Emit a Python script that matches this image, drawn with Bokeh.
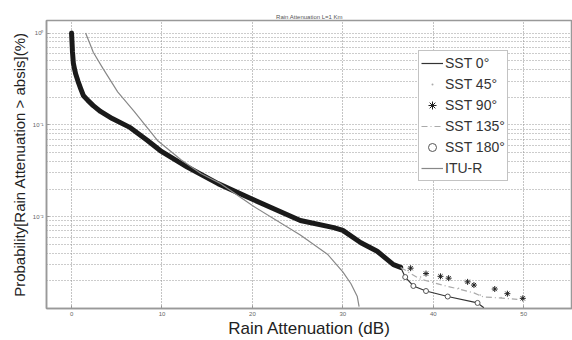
from bokeh.plotting import figure
from bokeh.models import Range1d, FixedTicker, Legend, LegendItem
from bokeh.embed import file_html
from bokeh.resources import INLINE

# ---- data ----
# common part where all SST angles overlap
common_x = [0.0, 0.05, 0.1, 0.2, 0.3, 0.45, 0.7, 1.0, 1.3, 1.8, 2.4, 3.2, 4.5, 6.5, 8.4, 9.8, 12.8, 16.2, 20.0,
            25.3, 29.0, 30.0, 32.0, 33.8, 35.6, 36.4]
common_p = [1.0, 0.8, 0.63, 0.468, 0.42, 0.36, 0.302, 0.25, 0.209, 0.185, 0.162, 0.14, 0.117, 0.0933, 0.0676,
            0.0525, 0.0347, 0.0229, 0.0155, 0.0091, 0.0076, 0.0071, 0.0052, 0.0042, 0.0030, 0.0028]

sst0_x = [36.4, 36.9, 37.8, 39.2, 41.6, 44.9, 45.6]
sst0_p = [0.0028, 0.0022, 0.00176, 0.00155, 0.00135, 0.00115, 0.00102]

sst45_x = [37.2, 38.6, 40.0, 42.8, 45.2, 47.5]
sst45_p = [0.0026, 0.0022, 0.00195, 0.00166, 0.0014, 0.00132]

sst90_x = [37.5, 39.2, 40.8, 41.7, 43.8, 44.5, 46.8, 48.2, 49.9]
sst90_p = [0.00275, 0.0024, 0.00224, 0.00214, 0.00195, 0.0018, 0.00163, 0.00145, 0.00129]

sst135_x = [36.4, 38.5, 41.0, 44.5, 45.5, 49.3]
sst135_p = [0.0028, 0.0021, 0.0018, 0.00148, 0.00134, 0.00126]

sst180_x = [36.9, 37.8, 39.2, 41.6, 44.9]
sst180_p = [0.0022, 0.00176, 0.00155, 0.00135, 0.00115]

itu_x = [1.55, 2.0, 2.4, 3.5, 5.1, 6.9, 9.5, 12.1, 14.3, 16.5, 20.0, 25.3, 28.3, 30.0, 30.9, 31.6, 31.8]
itu_p = [1.0, 0.78, 0.617, 0.407, 0.229, 0.141, 0.0676, 0.0417, 0.0295, 0.0229, 0.0132, 0.0063, 0.0039, 0.0025,
         0.00186, 0.00135, 0.00105]

x_ticks = [0, 10, 20, 30, 40, 50]
y_ticks = [0.01, 0.1, 1.0]
y_tick_labels = {0.01: "10\u207b\u00b2", 0.1: "10\u207b\u00b9", 1.0: "10\u2070"}

FONT = "Liberation Sans"

p = figure(width=572, height=340, y_axis_type="log", output_backend="svg", toolbar_location=None,
           x_range=Range1d(-2.77, 55.4), y_range=Range1d(0.001, 1.37),
           min_border_left=46, min_border_right=0, min_border_top=20, min_border_bottom=30,
           title="Rain Attenuation L=1 Km")
p.title.align = "center"
p.title.text_font = FONT
p.title.text_font_size = "6px"
p.title.text_font_style = "normal"
p.title.text_color = "#555555"
p.title.standoff = 2

p.outline_line_color = "#999999"
p.outline_line_width = 1.5

# axes
p.xaxis.ticker = FixedTicker(ticks=x_ticks)
p.xaxis.major_label_text_font_size = "6px"
p.xaxis.major_label_text_color = "#666666"
p.xaxis.major_label_text_font = FONT
p.xaxis.axis_line_color = "#999999"
p.xaxis.axis_line_width = 1.5
p.xaxis.major_tick_in = 3
p.xaxis.major_tick_out = 0
p.xaxis.major_tick_line_color = "#999999"
p.xaxis.minor_tick_line_color = None
p.xaxis.major_label_standoff = 3
p.xaxis.axis_label = "Rain Attenuation (dB)"
p.xaxis.axis_label_text_font = FONT
p.xaxis.axis_label_text_font_size = "17px"
p.xaxis.axis_label_text_font_style = "normal"
p.xaxis.axis_label_text_color = "#222222"
p.xaxis.axis_label_standoff = 0

minor = [k * 10.0 ** e for e in (-3, -2, -1) for k in range(2, 10)]
p.yaxis.ticker = FixedTicker(ticks=y_ticks, minor_ticks=minor)
p.yaxis.major_label_overrides = y_tick_labels
p.yaxis.major_label_text_font_size = "6px"
p.yaxis.major_label_text_color = "#666666"
p.yaxis.major_label_text_font = FONT
p.yaxis.axis_line_color = "#999999"
p.yaxis.axis_line_width = 1.5
p.yaxis.major_tick_in = 3
p.yaxis.major_tick_out = 0
p.yaxis.minor_tick_in = 0
p.yaxis.minor_tick_out = 0
p.yaxis.major_tick_line_color = "#999999"
p.yaxis.major_label_standoff = 3
p.yaxis.axis_label = "Probability[Rain Attenuation > absis](%)"
p.yaxis.axis_label_text_font = FONT
p.yaxis.axis_label_text_font_size = "15px"
p.yaxis.axis_label_text_font_style = "normal"
p.yaxis.axis_label_text_color = "#222222"
p.yaxis.axis_label_standoff = 2

# grids
p.xgrid.grid_line_color = "#888888"
p.xgrid.grid_line_dash = "1 2"
p.ygrid.grid_line_color = "#999999"
p.ygrid.grid_line_dash = "1 2"
p.ygrid.minor_grid_line_color = "#999999"
p.ygrid.minor_grid_line_dash = "1 2"

# curves
p.line(common_x, common_p, line_color="#1a1a1a", line_width=5, line_join="round", line_cap="round")
r0 = p.line(sst0_x, sst0_p, line_color="#333333", line_width=1.2)
r45 = p.scatter(sst45_x, sst45_p, marker="dot", size=6, line_color="#aaaaaa", fill_color="#aaaaaa")
r90 = p.scatter(sst90_x, sst90_p, marker="asterisk", size=6, line_color="#222222", line_width=1)
r135 = p.line(sst135_x, sst135_p, line_color="#aaaaaa", line_width=1.2, line_dash="6 3 1 3")
r180 = p.scatter(sst180_x, sst180_p, marker="circle", size=5, line_color="#555555", fill_color="white",
                 line_width=1)
ritu = p.line(itu_x, itu_p, line_color="#888888", line_width=1.2)

legend = Legend(items=[
    LegendItem(label="SST 0\u00b0", renderers=[r0]),
    LegendItem(label="SST 45\u00b0", renderers=[r45]),
    LegendItem(label="SST 90\u00b0", renderers=[r90]),
    LegendItem(label="SST 135\u00b0", renderers=[r135]),
    LegendItem(label="SST 180\u00b0", renderers=[r180]),
    LegendItem(label="ITU-R", renderers=[ritu]),
], location=(372, 127))
legend.label_text_font = FONT
legend.label_text_font_size = "14px"
legend.label_text_color = "#333333"
legend.label_height = 20
legend.glyph_height = 20
legend.glyph_width = 22
legend.label_standoff = 2
legend.spacing = 1
legend.padding = 2
legend.margin = 0
legend.border_line_color = "#888888"
legend.border_line_width = 1.5
legend.background_fill_color = "white"
legend.background_fill_alpha = 1.0
p.add_layout(legend)

open("out.html", "w").write(file_html(p, INLINE))
